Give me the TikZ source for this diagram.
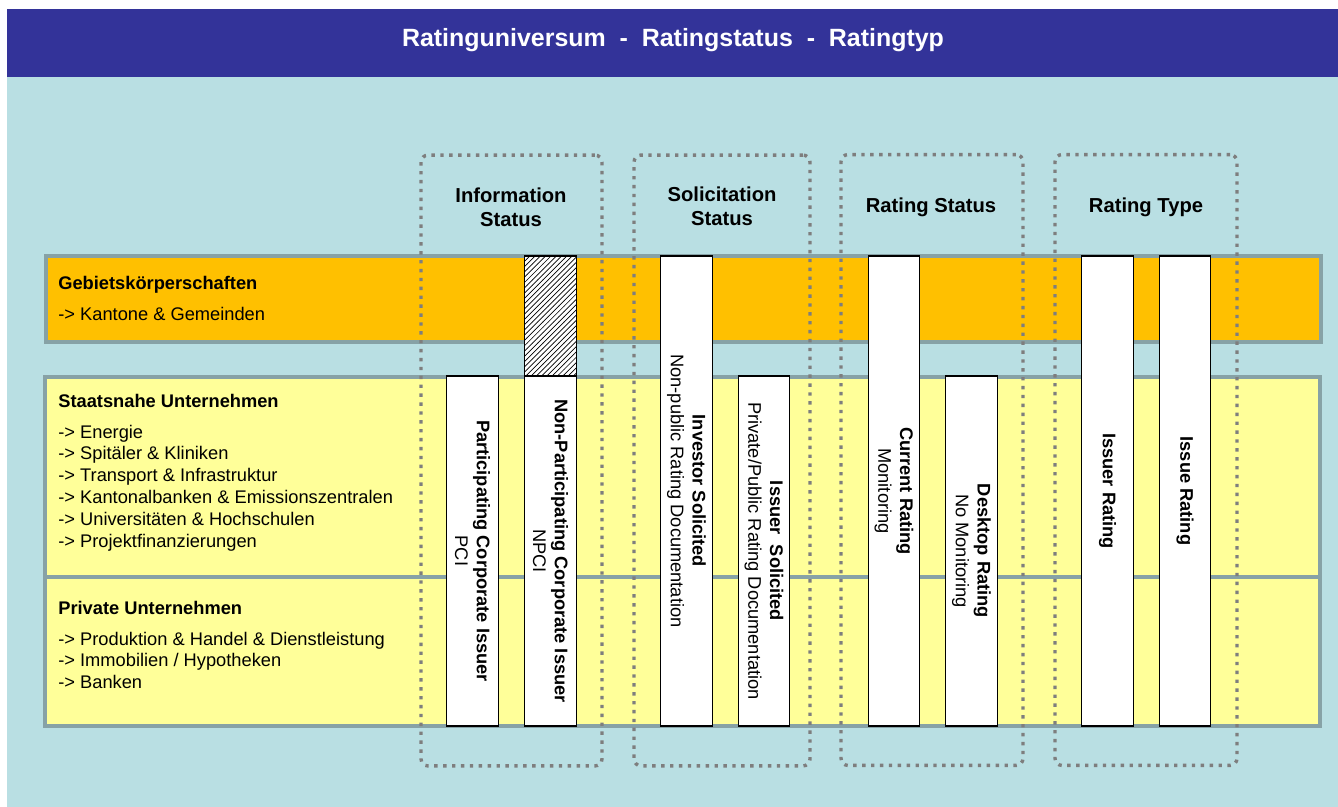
\documentclass[tikz,border=0pt]{standalone}
\usepackage{fontspec}
\setmainfont{Liberation Sans}
\usetikzlibrary{patterns}
\definecolor{ruHead}{HTML}{333399}
\definecolor{ruSky}{HTML}{B9DFE3}
\definecolor{ruOrange}{HTML}{FFC000}
\definecolor{ruYellow}{HTML}{FFFF99}
\definecolor{ruEdge}{HTML}{87A2A6}
\definecolor{ruDots}{HTML}{7E7E7E}

\begin{document}
\begin{tikzpicture}[x=0.02cm,y=-0.02cm,
    font=\fontsize{10.4}{12.4}\selectfont,
    bandbox/.style={draw=ruEdge,line width=0.08cm,inner sep=0pt,minimum width=25.5cm},
    bandtext/.style={anchor=north west,inner sep=0pt,align=left},
    statusframe/.style={draw=ruDots,line width=0.068cm,dash pattern=on 0.068cm off 0.11cm,
                        rounded corners=0.14cm,inner sep=0pt,minimum height=12.22cm},
    colhead/.style={font=\fontsize{11.5}{13.5}\selectfont\bfseries,align=center},
    ratingbar/.style={draw,line width=0.7pt,fill=white,rotate=-90,inner sep=0pt,
                      minimum height=1.03cm,align=center},
    shortbar/.style={ratingbar,minimum width=7cm},
    longbar/.style={ratingbar,minimum width=9.4cm},
    hatchbar/.style={draw,line width=0.7pt,preaction={fill=white},pattern=north east lines,
                     inner sep=0pt,minimum width=1.03cm,minimum height=2.4cm}]
  \useasboundingbox (0,0) rectangle (1338,807);
  \fill[white] (0,0) rectangle (1338,807);
  \fill[ruSky] (7,77) rectangle (1338,807);
  \fill[ruHead] (7,9) rectangle (1338,77);
  \node[text=white,font=\fontsize{14.2}{17}\selectfont\bfseries,anchor=base] (title) at (673,47)
    {Ratinguniversum\ \ -\ \ Ratingstatus\ \ -\ \ Ratingtyp};

  % Ratinguniversum
  \node[bandbox,fill=ruOrange,minimum height=1.72cm] (gebiet) at (683.5,299) {};
  \node[bandbox,fill=ruYellow,minimum height=4cm] (staat) at (682.5,477) {};
  \node[bandbox,fill=ruYellow,minimum height=2.98cm] (privat) at (682.5,651.5) {};
  \node[bandtext] (gebietlbl) at (58,276) {\textbf{Gebietskörperschaften}\\[5pt]
    -> Kantone \& Gemeinden};
  \node[bandtext] (staatlbl) at (58,394) {\textbf{Staatsnahe Unternehmen}\\[5pt]
    -> Energie\\
    -> Spitäler \& Kliniken\\
    -> Transport \& Infrastruktur\\
    -> Kantonalbanken \& Emissionszentralen\\
    -> Universitäten \& Hochschulen\\
    -> Projektfinanzierungen};
  \node[bandtext] (privatlbl) at (58,601) {\textbf{Private Unternehmen}\\[5pt]
    -> Produktion \& Handel \& Dienstleistung\\
    -> Immobilien / Hypotheken\\
    -> Banken};

  % status frames
  \node[statusframe,minimum width=3.62cm] (infoframe) at (511.5,460.5) {};
  \node[statusframe,minimum width=3.52cm] (soliframe) at (722,460.5) {};
  \node[statusframe,minimum width=3.64cm] (statframe) at (932,460) {};
  \node[statusframe,minimum width=3.64cm] (typeframe) at (1146,460) {};
  \node[colhead] (infohead) at (511,207) {Information\\Status};
  \node[colhead] (solihead) at (722,206) {Solicitation\\Status};
  \node[colhead] (stathead) at (931,207) {Rating Status};
  \node[colhead] (typehead) at (1146,207) {Rating Type};

  % Ratingstatus / Ratingtyp
  \node[shortbar] (pci) at (472.5,551) {\textbf{Participating Corporate Issuer}\\PCI};
  \node[shortbar] (npci) at (550.5,551) {\textbf{Non-Participating Corporate Issuer}\\NPCI};
  \node[hatchbar] (npcitop) at (550.5,316) {};
  \node[longbar] (investor) at (686.5,491) {\textbf{Investor Solicited}\\Non-public Rating Documentation};
  \node[shortbar] (issuersol) at (764,551) {\textbf{Issuer\ \ Solicited}\\Private/Public Rating Documentation};
  \node[longbar] (current) at (894,491) {\textbf{Current Rating}\\Monitoring};
  \node[shortbar] (desktop) at (971.5,551) {\textbf{Desktop Rating}\\No Monitoring};
  \node[longbar] (issuerrt) at (1107.5,491) {\textbf{Issuer Rating}};
  \node[longbar] (issuert) at (1185,491) {\textbf{Issue Rating}};
\end{tikzpicture}
\end{document}
